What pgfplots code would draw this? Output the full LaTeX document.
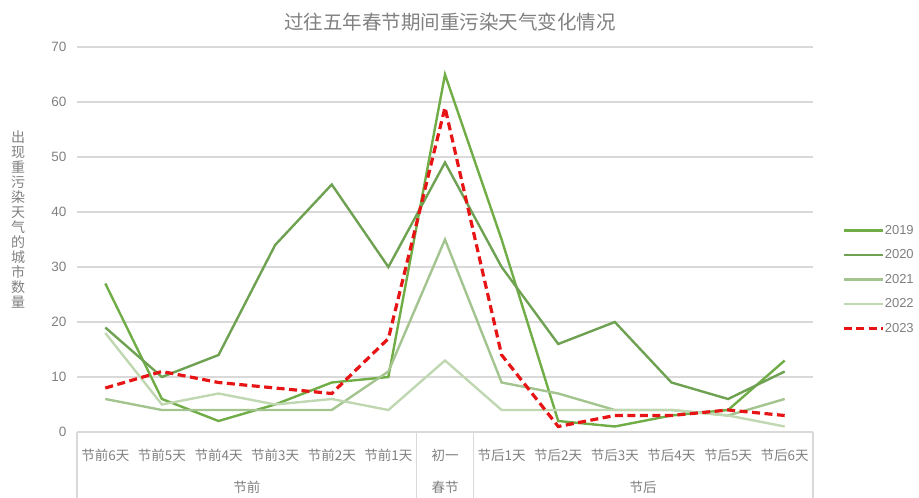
\documentclass[border=0pt]{standalone}
\usepackage{fontspec}
\setmainfont{Liberation Sans}
\newfontfamily\cjk{Noto Sans CJK SC}
\usepackage{pgfplots}
\usepackage{pgfplotstable}
\pgfplotsset{compat=1.18}
\definecolor{c19}{RGB}{112,173,71}
\definecolor{c20}{RGB}{110,162,82}
\definecolor{c21}{RGB}{163,196,143}
\definecolor{c22}{RGB}{192,216,177}
\definecolor{c23}{RGB}{230,20,20}
\definecolor{gridc}{RGB}{217,217,217}
\definecolor{txt}{RGB}{128,128,128}
\pgfplotstableread{
x y19 y20 y21 y22 y23
0 27 19 6 18 8
1 6 10 4 5 11
2 2 14 4 7 9
3 5 34 4 5 8
4 9 45 4 6 7
5 10 30 11 4 17
6 65 49 35 13 59
7 35 30 9 4 14
8 2 16 7 4 1
9 1 20 4 4 3
10 3 9 4 4 3
11 4 6 3 3 4
12 13 11 6 1 3
}\data
\begin{document}
\begin{tikzpicture}
\begin{axis}[
  at={(77pt,66pt)}, anchor=south west,
  scale only axis, width=736pt, height=385pt,
  xmin=-0.5, xmax=12.5, ymin=0, ymax=70,
  ytick={0,10,...,70},
  xtick={0,...,12},
  xticklabels={节前6天,节前5天,节前4天,节前3天,节前2天,节前1天,初一,节后1天,节后2天,节后3天,节后4天,节后5天,节后6天},
  x tick label style={font=\cjk\fontsize{13.5}{15}\selectfont, text=txt, anchor=center, yshift=-23pt},
  y tick label style={font=\fontsize{13.5}{15}\selectfont, text=txt, anchor=east, xshift=-7pt},
  /pgf/number format/assume math mode=true,
  ymajorgrids, grid style={color=gridc, line width=1.1pt},
  axis line style={draw=none},
  major tick length=0pt,
  clip=false,
  legend cell align=left,
  legend style={draw=none, fill=none, at={(1,0.396)}, anchor=west, xshift=26pt,
    font=\fontsize{13}{15}\selectfont, text=txt, row sep=12pt, nodes={inner sep=1pt}},
  legend image code/.code={\draw[#1, line width=2.6pt] (0pt,0pt) -- (39pt,0pt);},
]
\addplot[c19, line width=2.4pt] table[x=x,y=y19]{\data};
\addlegendentry{2019}
\addplot[c20, line width=2.4pt] table[x=x,y=y20]{\data};
\addlegendentry{2020}
\addplot[c21, line width=2.4pt] table[x=x,y=y21]{\data};
\addlegendentry{2021}
\addplot[c22, line width=2.4pt] table[x=x,y=y22]{\data};
\addlegendentry{2022}
\addplot[c23, line width=3.2pt, dash pattern=on 8pt off 4.5pt] table[x=x,y=y23]{\data};
\addlegendentry{2023}
\foreach \s in {-0.5,5.5,6.5,12.5}{
  \edef\tmp{\noexpand\draw[gridc, line width=1.1pt] (axis cs:\s,0) -- ++(0pt,-66pt);}
  \tmp
}
\node[font=\cjk\fontsize{13.5}{15}\selectfont, text=txt] at (axis cs:2.5,0) [yshift=-55pt] {节前};
\node[font=\cjk\fontsize{13.5}{15}\selectfont, text=txt] at (axis cs:6,0) [yshift=-55pt] {春节};
\node[font=\cjk\fontsize{13.5}{15}\selectfont, text=txt] at (axis cs:9.5,0) [yshift=-55pt] {节后};
\end{axis}
\node[font=\cjk\fontsize{19.5}{22}\selectfont, text=txt] at (450pt,476pt) {过往五年春节期间重污染天气变化情况};
\node[font=\cjk\fontsize{14}{15}\selectfont, text=txt, align=center] at (18pt,278pt) {出\\现\\重\\污\\染\\天\\气\\的\\城\\市\\数\\量};
\pgfresetboundingbox
\useasboundingbox (0,0) rectangle (919pt,498pt);
\end{tikzpicture}
\end{document}
